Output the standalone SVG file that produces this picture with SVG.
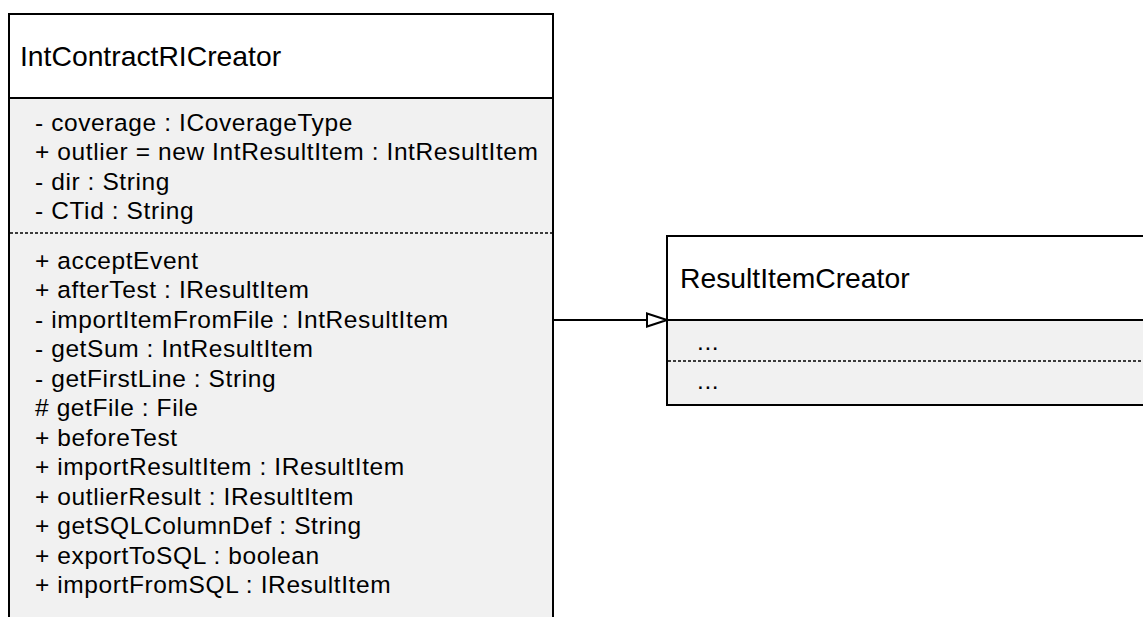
<svg xmlns="http://www.w3.org/2000/svg" width="1143" height="617" viewBox="0 0 1143 617">
<style>
.box{stroke:#000;stroke-width:2;}
.hdr{fill:#fff;}
.body{fill:#f1f1f1;}
.title{font-family:"Liberation Sans",Arial,sans-serif;font-size:28.3px;fill:#000;}
.row{font-family:"Liberation Sans",Arial,sans-serif;font-size:24.5px;letter-spacing:0.6px;fill:#000;}
.sep{stroke:#000;stroke-width:1.5;stroke-dasharray:3 2;fill:none;}
.conn{stroke:#000;stroke-width:2;fill:none;}
</style>
<defs>
<marker id="tri" viewBox="0 0 22 16" refX="21" refY="8" markerWidth="22" markerHeight="16" markerUnits="userSpaceOnUse" orient="auto">
<path d="M1,1.5 L21,8 L1,14.5 Z" fill="#fff" stroke="#000" stroke-width="2"/>
</marker>
</defs>
<rect width="1143" height="617" fill="#fff"/>
<g id="IntContractRICreator">
<rect class="box body" x="9" y="14" width="544" height="640"/>
<rect class="box hdr" x="9" y="14" width="544" height="84"/>
<text class="title" x="20" y="66">IntContractRICreator</text>
<text class="row" x="35" y="131">- coverage : ICoverageType</text>
<text class="row" x="35" y="160">+ outlier = new IntResultItem : IntResultItem</text>
<text class="row" x="35" y="190">- dir : String</text>
<text class="row" x="35" y="219">- CTid : String</text>
<line class="sep" x1="10" y1="233" x2="552" y2="233"/>
<text class="row" x="35" y="269">+ acceptEvent</text>
<text class="row" x="35" y="298">+ afterTest : IResultItem</text>
<text class="row" x="35" y="328">- importItemFromFile : IntResultItem</text>
<text class="row" x="35" y="357">- getSum : IntResultItem</text>
<text class="row" x="35" y="387">- getFirstLine : String</text>
<text class="row" x="35" y="416"># getFile : File</text>
<text class="row" x="35" y="446">+ beforeTest</text>
<text class="row" x="35" y="475">+ importResultItem : IResultItem</text>
<text class="row" x="35" y="505">+ outlierResult : IResultItem</text>
<text class="row" x="35" y="534">+ getSQLColumnDef : String</text>
<text class="row" x="35" y="564">+ exportToSQL : boolean</text>
<text class="row" x="35" y="593">+ importFromSQL : IResultItem</text>
</g>
<g id="ResultItemCreator">
<rect class="box body" x="667" y="236" width="500" height="169"/>
<rect class="box hdr" x="667" y="236" width="500" height="84"/>
<text class="title" x="680" y="288">ResultItemCreator</text>
<text class="row" x="697" y="350">...</text>
<line class="sep" x1="668" y1="361" x2="1143" y2="361"/>
<text class="row" x="697" y="389">...</text>
</g>
<g id="connectors">
<line class="conn" x1="553" y1="320" x2="667" y2="320" marker-end="url(#tri)"/>
</g>
</svg>
